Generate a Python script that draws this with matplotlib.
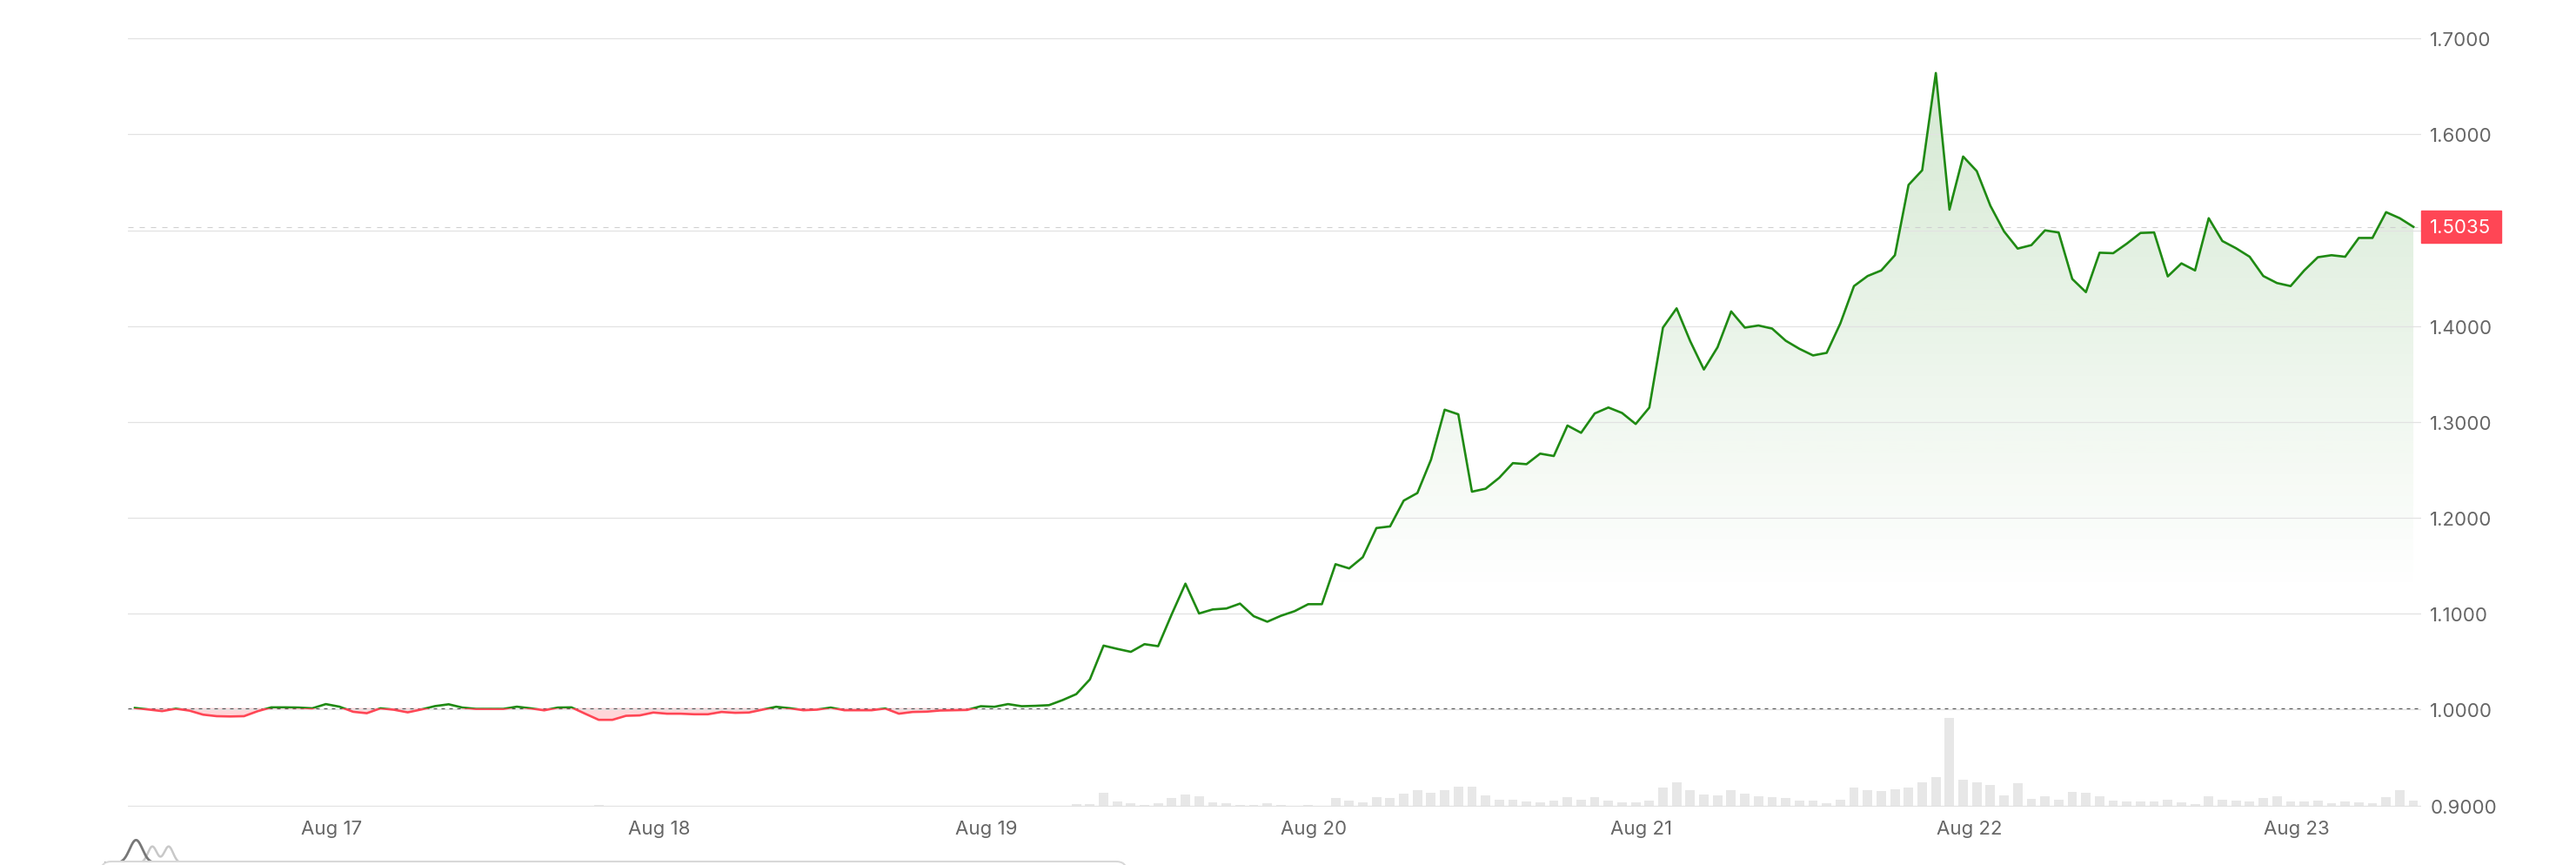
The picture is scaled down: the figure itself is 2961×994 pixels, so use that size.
import matplotlib.pyplot as plt
import matplotlib.dates as mdates
import matplotlib.transforms as mtransforms
import numpy as np
import pandas as pd
from matplotlib.patches import Rectangle, FancyBboxPatch

plt.rcParams["font.family"] = ["Inter", "DejaVu Sans"]

# hourly price, starting Aug 16 09:34
start = "2024-08-16 09:34"
price = [
    1.0018, 1.0002, 0.9985, 1.0010, 0.9990, 0.9948, 0.9932, 0.9929, 0.9932, 0.9984,
    1.0024, 1.0024, 1.0022, 1.0014, 1.0058, 1.0031, 0.9978, 0.9963, 1.0014, 0.9999,
    0.9972, 1.0002, 1.0037, 1.0056, 1.0022, 1.0008, 1.0008, 1.0008, 1.0031, 1.0014,
    0.9993, 1.0022, 1.0024, 0.9958, 0.9894, 0.9894, 0.9936, 0.9940, 0.9970, 0.9958,
    0.9958, 0.9952, 0.9952, 0.9976, 0.9967, 0.9970, 1.0000, 1.0030, 1.0015, 0.9994,
    1.0000, 1.0022, 0.9994, 0.9994, 0.9994, 1.0012, 0.9958, 0.9976, 0.9979, 0.9991,
    0.9994, 0.9997, 1.0036, 1.0030, 1.0058, 1.0036, 1.0040, 1.0047, 1.0100, 1.0162,
    1.0316, 1.0668, 1.0634, 1.0603, 1.0683, 1.0662, 1.0996, 1.1314, 1.1003, 1.1045,
    1.1055, 1.1106, 1.0975, 1.0917, 1.0979, 1.1027, 1.1100, 1.1100, 1.1517, 1.1473,
    1.1590, 1.1894, 1.1911, 1.2180, 1.2259, 1.2607, 1.3128, 1.3080, 1.2273, 1.2304,
    1.2418, 1.2571, 1.2560, 1.2670, 1.2645, 1.2963, 1.2887, 1.3089, 1.3151, 1.3094,
    1.2979, 1.3150, 1.3984, 1.4185, 1.3842, 1.3547, 1.3779, 1.4153, 1.3984, 1.4006,
    1.3974, 1.3847, 1.3763, 1.3694, 1.3721, 1.4027, 1.4417, 1.4522, 1.4580, 1.4739,
    1.5472, 1.5625, 1.6639, 1.5214, 1.5768, 1.5616, 1.5254, 1.4987, 1.4808, 1.4844,
    1.4998, 1.4976, 1.4491, 1.4354, 1.4765, 1.4760, 1.4860, 1.4971, 1.4976, 1.4518,
    1.4654, 1.4580, 1.5125, 1.4887, 1.4812, 1.4723, 1.4522, 1.4449, 1.4417, 1.4580,
    1.4718, 1.4739, 1.4723, 1.4919, 1.4919, 1.5188, 1.5125, 1.5035,
]
volume = [
    0.3, 0.3, 0.3, 0.3, 0.5, 0.8, 0.4, 0.3, 0.9, 1.0,
    0.4, 0.3, 0.3, 0.3, 0.8, 0.4, 0.6, 0.6, 0.3, 0.3,
    0.3, 0.4, 1.0, 1.1, 0.4, 0.3, 0.3, 0.3, 0.5, 0.3,
    0.3, 0.3, 0.4, 0.8, 1.8, 0.9, 0.4, 0.3, 0.3, 0.3,
    0.3, 0.3, 0.3, 0.3, 0.3, 0.4, 1.2, 0.6, 0.3, 0.3,
    0.3, 0.3, 0.3, 0.3, 0.3, 0.4, 0.9, 0.4, 0.3, 0.3,
    0.3, 0.6, 0.4, 0.8, 0.5, 0.5, 0.5, 0.6, 0.8, 2.7,
    2.7, 16.3, 6.1, 4.2, 2.3, 3.4, 9.9, 14.0, 12.1, 4.9,
    3.4, 2.3, 2.3, 3.4, 1.5, 1.1, 1.9, 1.1, 9.9, 6.8,
    4.6, 11.0, 10.2, 14.4, 18.6, 16.3, 19.0, 23.1, 23.1, 12.9,
    7.6, 7.6, 6.1, 5.3, 6.5, 11.0, 8.3, 11.0, 7.0, 4.5,
    5.0, 6.8, 22.0, 28.2, 19.2, 14.2, 12.5, 19.2, 14.5, 11.6,
    10.4, 9.9, 7.0, 7.0, 4.1, 8.1, 21.5, 18.6, 18.0, 20.3,
    22.1, 27.9, 33.7, 101.6, 30.8, 27.9, 24.4, 13.3, 26.7, 9.3,
    12.2, 8.1, 16.8, 15.7, 11.6, 6.4, 5.8, 5.8, 5.8, 8.1,
    4.6, 2.9, 11.6, 8.1, 6.4, 5.8, 9.9, 11.6, 5.8, 5.8,
    7.0, 3.5, 5.8, 5.2, 3.5, 10.4, 18.6, 7.0,
]
y_ticks = [0.9, 1.0, 1.1, 1.2, 1.3, 1.4, 1.5, 1.6, 1.7]
last_label = "1.5035"

GREEN = "#1f8a13"
RED = "#ff4655"
GREY_TXT = "#666666"
W, H = 2961, 995

times = pd.date_range(start, periods=len(price), freq="h")
x = mdates.date2num(times)
p = np.array(price)
base = price[0]
hour = 1 / 24

fig = plt.figure(figsize=(W / 100, H / 100), dpi=100)
ax = fig.add_axes([147 / W, (H - 927.8) / H, (2783 - 147) / W, 883.8 / H])
vax = ax.twinx()
ax.set_zorder(vax.get_zorder() + 1)
ax.patch.set_visible(False)

# volume bars
vax.bar(x, volume, width=0.69 * hour, color="#e7e7e7", linewidth=0)
vax.set_ylim(0, max(volume) * 8.7)
vax.set_axis_off()

# green gradient above the opening price
grad = np.zeros((256, 1, 4))
grad[..., :3] = np.array([31, 138, 19]) / 255
grad[..., 3] = np.linspace(0, 0.19, 256).reshape(-1, 1)
im = ax.imshow(grad, extent=[x[0], x[-1], 1.12, 1.67], origin="lower",
               aspect="auto", zorder=1, interpolation="bilinear")
area = ax.fill_between(x, p, base, facecolor="none", edgecolor="none")
im.set_clip_path(area.get_paths()[0], transform=ax.transData)

# red area below the opening price
ax.fill_between(x, p, base, where=p < base, interpolate=True,
                color=RED, alpha=0.22, linewidth=0, zorder=1)

# price line, green above / red below the opening price
up_clip = Rectangle((x[0] - 1, base), 20, 5, transform=ax.transData)
dn_clip = Rectangle((x[0] - 1, base - 5), 20, 5, transform=ax.transData)
g_line, = ax.plot(x, p, color=GREEN, lw=1.9, zorder=4)
g_line.set_clip_path(up_clip)
r_line, = ax.plot(x, p, color=RED, lw=1.9, zorder=4)
r_line.set_clip_path(dn_clip)

ax.axhline(base, color="#555555", lw=0.8, dashes=(3.6, 4.5), zorder=3)
ax.axhline(price[-1], color="#cfcfcf", lw=0.8, dashes=(5.4, 6.3), zorder=2)

ax.set_xlim(x[0] - 0.51 * hour, x[-1] + 0.57 * hour)
ax.set_ylim(0.899, 1.701)
ax.set_yticks(y_ticks)
ax.yaxis.set_major_formatter(plt.FuncFormatter(lambda v, _: f"{v:.4f}"))
ax.yaxis.tick_right()
ax.grid(axis="y", color="#e2e2e2", lw=0.9)
ax.xaxis.set_major_locator(mdates.DayLocator())
ax.xaxis.set_major_formatter(mdates.DateFormatter("%b %d"))
ax.tick_params(axis="y", length=0, pad=7.5, labelsize=16, labelcolor=GREY_TXT)
ax.tick_params(axis="x", length=0, pad=11, labelsize=16, labelcolor=GREY_TXT)
for s in ax.spines.values():
    s.set_visible(False)

# current price tag
blend = mtransforms.blended_transform_factory(ax.transAxes, ax.transData)
ax.add_patch(Rectangle((1.0, price[-1] - 0.0168), 0.0349, 0.0336,
                       transform=blend, color=RED, clip_on=False, zorder=6))
ax.text(1.0 + 10 / 2636, price[-1], last_label, transform=blend, color="white",
        fontsize=16, va="center", ha="left", zorder=7, clip_on=False)

# cut-off range selector at the bottom
px = mtransforms.IdentityTransform()
fig.add_artist(FancyBboxPatch((116, -40), 1179, 44, transform=px,
                              boxstyle="round,pad=0,rounding_size=12",
                              facecolor="white", edgecolor="#d8d8d8", lw=1.5))
icon = fig.add_axes([120 / W, 1 / H, 104 / W, 29 / H])
icon.set_axis_off()
t = np.linspace(0, 1, 200)
icon.plot(t, 0.72 * np.exp(-((t - 0.53) / 0.07) ** 2)
          + 0.72 * np.exp(-((t - 0.71) / 0.07) ** 2), color="#c8c8c8", lw=1.8)
icon.plot(t, np.exp(-((t - 0.35) / 0.1) ** 2), color="#777777", lw=2.0)
icon.axhline(0, color="#777777", lw=2.0)
icon.set_xlim(0, 1)
icon.set_ylim(-0.05, 1.05)

fig.savefig("out.png", dpi=100)
